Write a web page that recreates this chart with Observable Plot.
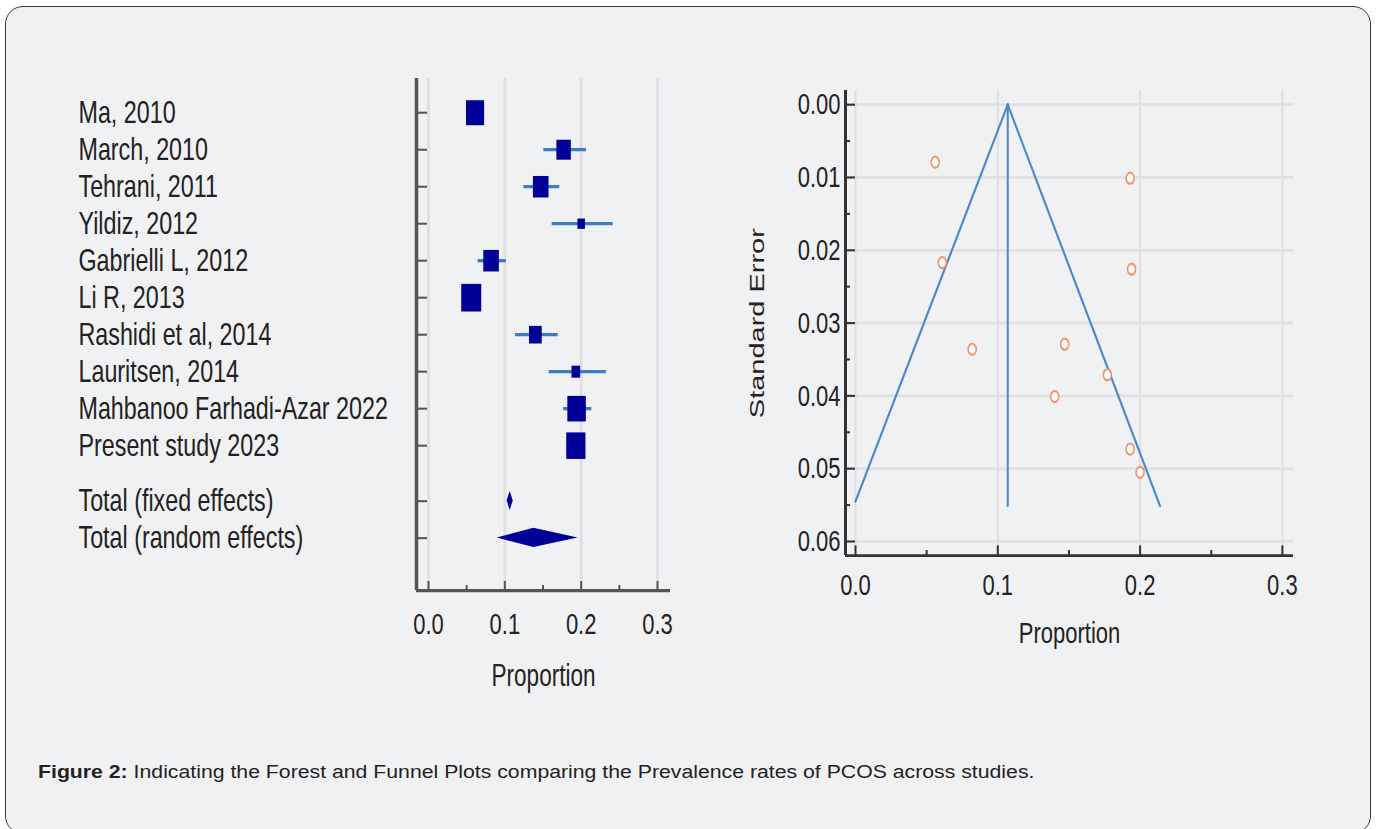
<!DOCTYPE html>
<html><head><meta charset="utf-8">
<script src="https://cdn.jsdelivr.net/npm/d3@7"></script>
<script src="https://cdn.jsdelivr.net/npm/@observablehq/plot@0.6"></script>
<style>
html,body{margin:0;padding:0;background:#fff;width:1377px;height:829px;overflow:hidden;font-family:"Liberation Sans",Arial,sans-serif;}
#panel{position:absolute;left:5px;top:6px;width:1366px;height:828px;border:1.3px solid #3a3a3a;border-radius:18px;background:#f0f1f3;box-sizing:border-box;}
.chart{position:absolute;top:70px;transform-origin:0 0;transform:scaleY(1.38);}
#forest{left:0}
#funnel{left:700px}
#caption{position:absolute;left:38px;top:762px;font-size:18px;color:#222;white-space:nowrap;transform-origin:0 0;transform:scaleX(1.18);}
</style></head><body>
<div id="panel"></div>
<div id="forest" class="chart"></div>
<div id="funnel" class="chart"></div>
<div id="caption"><b>Figure 2:</b> Indicating the Forest and Funnel Plots comparing the Prevalence rates of PCOS across studies.</div>
<script>
// ---- data ----
const studies = ["Ma, 2010","March, 2010","Tehrani, 2011","Yildiz, 2012","Gabrielli L, 2012","Li R, 2013","Rashidi et al, 2014","Lauritsen, 2014","Mahbanoo Farhadi-Azar 2022","Present study 2023"];
const estimate = [0.061,0.177,0.147,0.200,0.082,0.056,0.140,0.193,0.194,0.193];
const ciLow    = [0.054,0.151,0.125,0.162,0.065,0.050,0.114,0.158,0.177,0.184];
const ciHigh   = [0.068,0.207,0.172,0.242,0.102,0.062,0.170,0.233,0.214,0.202];
const weight   = [13.5,8.6,10.0,2.3,10.0,16.5,6.7,3.1,14.1,15.2];
const stdError = [0.0217,0.0371,0.0329,0.0505,0.0336,0.0079,0.0401,0.0473,0.0226,0.0101];
const pooledNames = ["Total (fixed effects)","Total (random effects)"];
const pooledEst  = [0.107,0.138];
const pooledLow  = [0.103,0.090];
const pooledHigh = [0.111,0.196];
const xTicks = [0,0.1,0.2,0.3];
const xMinorTicks = [0.05,0.15,0.25];
const seTicks = [0,0.01,0.02,0.03,0.04,0.05,0.06];
const seMinorTicks = [0.005,0.015,0.025,0.035,0.045,0.055];
const funnelLineId = ["left","left","center","center","right","right"];
const funnelLineX  = [0.107,0.0,0.107,0.107,0.107,0.214];
const funnelLineSE = [0,0.0545,0,0.0551,0,0.0551];

// ---- layout ----
const S = 1.38, TOP = 70, H = 470;
const FONT = "'Liberation Sans', Arial, sans-serif";
const TXT = "#222", AX = "#555", GRID = "#dfe0e3";
const boxColor = "#000099", ciColor = "#3b7dc4";

const rows = studies.map((name,i)=>({name,row:i,est:estimate[i],lo:ciLow[i],hi:ciHigh[i],w:weight[i],se:stdError[i]}));
const pooled = pooledNames.map((name,j)=>({name,row:studies.length+0.5+j,est:pooledEst[j],lo:pooledLow[j],hi:pooledHigh[j]}));
const dh = 0.26;
const diamond = pooled.flatMap(p=>[
  {name:p.name,y:p.row-dh,x1:p.est,x2:p.est},
  {name:p.name,y:p.row,x1:p.lo,x2:p.hi},
  {name:p.name,y:p.row+dh,x1:p.est,x2:p.est}]);
const labels = [...rows,...pooled];

// forest
const fMT = (78-TOP)/S, fMB = H-(590-TOP)/S;
const fFrameW = 670-416, fFrameH = (590-78)/S;
const fx = [-0.0157,0.317], fy = [-0.92,12.92];
const forest = Plot.plot({
  width:700, height:H, marginLeft:416, marginRight:30, marginTop:fMT, marginBottom:fMB,
  style:{background:"transparent",fontFamily:FONT,color:TXT,overflow:"visible"},
  x:{domain:fx,axis:null},
  y:{domain:fy,reverse:true,axis:null},
  r:{type:"sqrt",domain:[0,16.5],range:[0,11.3]},
  marks:[
    Plot.ruleX(xTicks,{x:d=>d,stroke:GRID,strokeWidth:3}),
    Plot.ruleX([fx[0]],{x:d=>d,stroke:AX,strokeWidth:3.5}),
    Plot.ruleY([fy[1]],{y:d=>d,stroke:AX,strokeWidth:2.3}),
    Plot.tickY(labels,{y:"row",stroke:AX,strokeWidth:1.5,insetRight:fFrameW-11}),
    Plot.tickX(xTicks,{x:d=>d,stroke:AX,strokeWidth:2,insetTop:fFrameH-6.5}),
    Plot.tickX(xMinorTicks,{x:d=>d,stroke:AX,strokeWidth:2,insetTop:fFrameH-3.6}),
    Plot.text(xTicks,{x:d=>d,text:d=>d3.format(".1f")(d),frameAnchor:"bottom",dy:31.6,fontSize:22,fill:TXT}),
    Plot.text(["Proportion"],{text:d=>d,frameAnchor:"bottom",dy:68.8,fontSize:22.5,fill:TXT}),
    Plot.text(labels,{y:"row",text:"name",frameAnchor:"left",dx:-338,textAnchor:"start",fontSize:23.3,fill:TXT}),
    Plot.ruleY(rows,{y:"row",x1:"lo",x2:"hi",stroke:ciColor,strokeWidth:2.4}),
    Plot.dot(rows,{x:"est",y:"row",r:"w",symbol:"square",fill:boxColor}),
    Plot.areaX(diamond,{y:"y",x1:"x1",x2:"x2",z:"name",fill:boxColor,curve:"linear"})
  ]
});
document.getElementById("forest").appendChild(forest);

// funnel
const gMT = (90-TOP)/S, gMB = H-(555-TOP)/S;
const gFrameW = 1293-845, gFrameH = (555-90)/S;
const gx = [-0.00703,0.3078], gy = [-0.00192,0.06195];
const funnelLines = funnelLineId.map((id,i)=>({id,x:funnelLineX[i],se:funnelLineSE[i]}));
const funnel = Plot.plot({
  width:677, height:H, marginLeft:145, marginRight:84, marginTop:gMT, marginBottom:gMB,
  style:{background:"transparent",fontFamily:FONT,color:TXT,overflow:"visible"},
  x:{domain:gx,axis:null},
  y:{domain:gy,reverse:true,axis:null},
  marks:[
    Plot.ruleX(xTicks,{x:d=>d,stroke:GRID,strokeWidth:2}),
    Plot.ruleY(seTicks,{y:d=>d,stroke:GRID,strokeWidth:2}),
    Plot.ruleX([gx[0]],{x:d=>d,stroke:"#333",strokeWidth:3}),
    Plot.ruleY([gy[1]],{y:d=>d,stroke:"#333",strokeWidth:2}),
    Plot.tickY(seTicks,{y:d=>d,stroke:"#333",strokeWidth:1.5,insetRight:gFrameW-10}),
    Plot.tickY(seMinorTicks,{y:d=>d,stroke:"#333",strokeWidth:1.5,insetRight:gFrameW-5}),
    Plot.tickX(xTicks,{x:d=>d,stroke:"#333",strokeWidth:2,insetTop:gFrameH-7}),
    Plot.tickX(xMinorTicks,{x:d=>d,stroke:"#333",strokeWidth:2,insetTop:gFrameH-3.6}),
    Plot.text(seTicks,{y:d=>d,text:d=>d3.format(".2f")(d),frameAnchor:"left",dx:-5,textAnchor:"end",fontSize:22,fill:TXT}),
    Plot.text(xTicks,{x:d=>d,text:d=>d3.format(".1f")(d),frameAnchor:"bottom",dy:28.8,fontSize:22,fill:TXT}),
    Plot.text(["Proportion"],{text:d=>d,frameAnchor:"bottom",dy:63,fontSize:22,fill:TXT}),
    Plot.text(["Standard Error"],{text:d=>d,frameAnchor:"left",dx:-88,rotate:-90,textAnchor:"middle",fontSize:21,fill:TXT}),
    Plot.line(funnelLines,{x:"x",y:"se",z:"id",stroke:"#4a87c6",strokeWidth:2}),
    Plot.dot(rows,{x:"est",y:"se",r:4,fill:"white",stroke:"#f2946b",strokeWidth:1.6})
  ]
});
document.getElementById("funnel").appendChild(funnel);
</script>
</body></html>
